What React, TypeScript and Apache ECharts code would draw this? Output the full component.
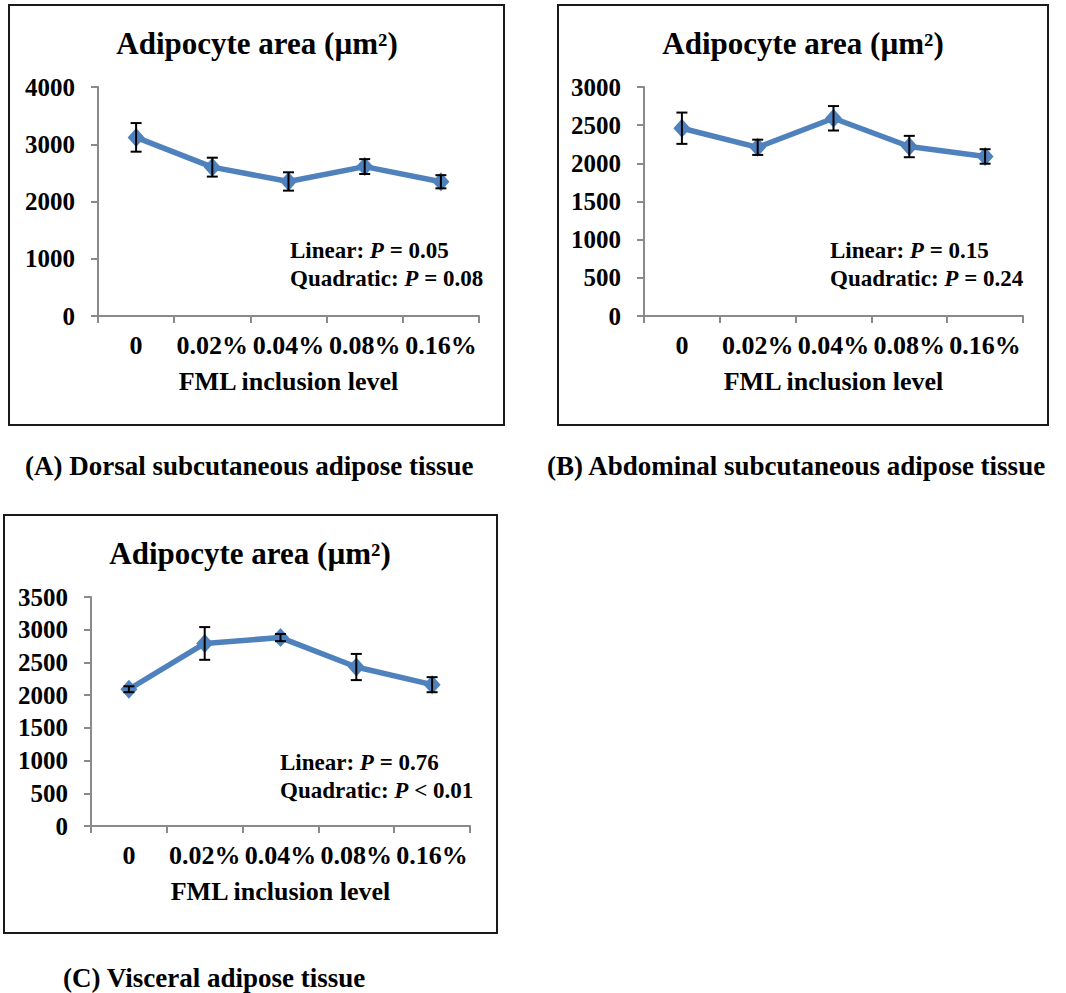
import React, { useEffect, useRef } from "react";
import * as echarts from "echarts";

const categories = ["0", "0.02%", "0.04%", "0.08%", "0.16%"];

const meanA = [3120, 2600, 2350, 2610, 2345];
const seA = [250, 165, 160, 130, 115];
const meanB = [2460, 2210, 2590, 2220, 2090];
const seB = [205, 100, 160, 140, 95];
const meanC = [2090, 2790, 2880, 2430, 2160];
const seC = [45, 250, 55, 200, 115];

const yMaxes = [4000, 3000, 3500];
const yIntervals = [1000, 500, 500];

const chartTitle = "Adipocyte area (µm²)";
const xName = "FML inclusion level";
const pLinear = ["= 0.05", "= 0.15", "= 0.76"];
const pQuad = ["= 0.08", "= 0.24", "< 0.01"];
const captions = [
  "(A) Dorsal subcutaneous adipose tissue",
  "(B) Abdominal subcutaneous adipose tissue",
  "(C) Visceral adipose tissue",
];

const FONT = '"Liberation Serif", "Times New Roman", serif';
const BLUE = "#4F81BD";
const AXIS = "#8a8a8a";

export default function App() {
  const ref = useRef<HTMLDivElement>(null);
  useEffect(() => {
    document.body.style.margin = "0";
    const chart = echarts.init(ref.current!, null, { renderer: "svg" });

    const grids = [
      { left: 98, top: 87, width: 381, height: 229 },
      { left: 644, top: 87, width: 379, height: 229 },
      { left: 91, top: 597, width: 379, height: 229 },
    ];
    const titlePos = [
      { x: 257, y: 43 },
      { x: 803, y: 43 },
      { x: 250, y: 553 },
    ];
    const annotPos = [
      { x: 290, y: 250 },
      { x: 830, y: 250 },
      { x: 280, y: 762 },
    ];
    const frames = [
      { x: 9, y: 5, width: 495, height: 420 },
      { x: 558, y: 5, width: 490, height: 420 },
      { x: 4, y: 515, width: 493, height: 418 },
    ];
    const captionPos = [
      { x: 25, y: 466 },
      { x: 547, y: 466 },
      { x: 63, y: 978 },
    ];
    const means = [meanA, meanB, meanC];
    const ses = [seA, seB, seC];

    const xAxis = grids.map((_, i) => ({
      type: "category",
      gridIndex: i,
      data: categories,
      boundaryGap: true,
      name: xName,
      nameLocation: "middle",
      nameGap: 52,
      nameTextStyle: { fontFamily: FONT, fontWeight: "bold", fontSize: 26, color: "#000" },
      axisLine: { lineStyle: { color: AXIS, width: 2 } },
      axisTick: { show: true, interval: 0, length: 7, alignWithLabel: false, lineStyle: { color: AXIS, width: 2 } },
      axisLabel: { interval: 0, margin: 16, fontFamily: FONT, fontWeight: "bold", fontSize: 26, color: "#000" },
      splitLine: { show: false },
    }));
    const yAxis = grids.map((_, i) => ({
      type: "value",
      gridIndex: i,
      min: 0,
      max: yMaxes[i],
      interval: yIntervals[i],
      axisLine: { show: true, lineStyle: { color: AXIS, width: 2 } },
      axisTick: { show: true, length: 7, lineStyle: { color: AXIS, width: 2 } },
      axisLabel: {
        margin: 23,
        fontFamily: FONT,
        fontWeight: "bold",
        fontSize: 25,
        color: "#000",
        formatter: (v: number) => String(v),
      },
      splitLine: { show: false },
    }));

    const series: any[] = [];
    means.forEach((m, i) => {
      series.push({
        type: "line",
        xAxisIndex: i,
        yAxisIndex: i,
        data: m,
        symbol: "diamond",
        symbolSize: [17, 19],
        lineStyle: { color: BLUE, width: 5.5 },
        itemStyle: { color: BLUE },
        z: 3,
      });
      series.push({
        type: "custom",
        xAxisIndex: i,
        yAxisIndex: i,
        data: m.map((v, k) => [k, v - ses[i][k], v + ses[i][k]]),
        z: 4,
        renderItem: (params: any, api: any) => {
          const k = api.value(0);
          const lo = api.coord([k, api.value(1)]);
          const hi = api.coord([k, api.value(2)]);
          const w = 5.5;
          const st = { stroke: "#000", lineWidth: 2 };
          return {
            type: "group",
            children: [
              { type: "line", shape: { x1: hi[0], y1: hi[1], x2: lo[0], y2: lo[1] }, style: st },
              { type: "line", shape: { x1: hi[0] - w, y1: hi[1], x2: hi[0] + w, y2: hi[1] }, style: st },
              { type: "line", shape: { x1: lo[0] - w, y1: lo[1], x2: lo[0] + w, y2: lo[1] }, style: st },
            ],
          };
        },
      });
    });

    const richStyle = {
      b: { fontFamily: FONT, fontWeight: "bold", fontSize: 23, fill: "#000", color: "#000" },
      i: { fontFamily: FONT, fontWeight: "bold", fontStyle: "italic", fontSize: 23, fill: "#000", color: "#000" },
    };

    const graphic: any[] = [];
    frames.forEach((f) => {
      graphic.push({
        type: "rect",
        shape: f,
        style: { fill: "none", stroke: "#1a1a1a", lineWidth: 2 },
        silent: true,
      });
    });
    annotPos.forEach((p, i) => {
      graphic.push({
        type: "text",
        x: p.x,
        y: p.y,
        style: {
          text: `{b|Linear: }{i|P}{b| ${pLinear[i]}}`,
          rich: richStyle,
          verticalAlign: "middle",
          align: "left",
        },
      });
      graphic.push({
        type: "text",
        x: p.x,
        y: p.y + 28,
        style: {
          text: `{b|Quadratic: }{i|P}{b| ${pQuad[i]}}`,
          rich: richStyle,
          verticalAlign: "middle",
          align: "left",
        },
      });
    });
    titlePos.forEach((p) => {
      graphic.push({
        type: "text",
        x: p.x,
        y: p.y,
        style: {
          text: chartTitle,
          fontFamily: FONT,
          fontWeight: "bold",
          fontSize: 31,
          fill: "#000",
          align: "center",
          verticalAlign: "middle",
        },
      });
    });
    captionPos.forEach((p, i) => {
      graphic.push({
        type: "text",
        x: p.x,
        y: p.y,
        style: {
          text: captions[i],
          fontFamily: FONT,
          fontWeight: "bold",
          fontSize: 27,
          fill: "#000",
          align: "left",
          verticalAlign: "middle",
        },
      });
    });

    chart.setOption({
      animation: false,
      backgroundColor: "#fff",
      grid: grids,
      xAxis,
      yAxis,
      series,
      graphic,
    });
    return () => chart.dispose();
  }, []);
  return <div ref={ref} style={{ width: 1066, height: 993 }} />;
}
